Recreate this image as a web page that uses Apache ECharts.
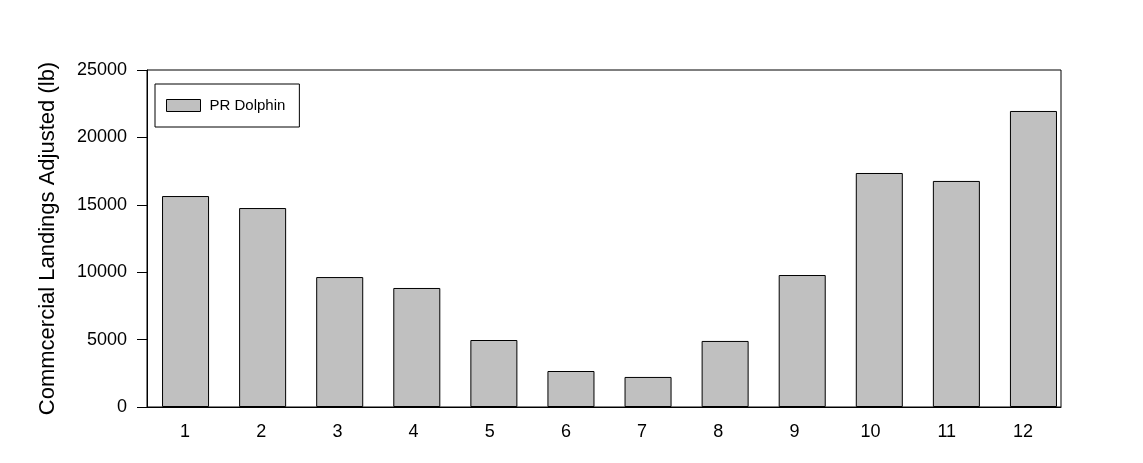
<!DOCTYPE html>
<html>
<head>
<meta charset="utf-8">
<script src="https://cdn.jsdelivr.net/npm/echarts@6/dist/echarts.min.js"></script>
<style>
  html, body { margin: 0; padding: 0; background: #fff; }
  #main { width: 1143px; height: 463px; }
</style>
</head>
<body>
<div id="main"></div>
<script>
// months 1..12
var months = ["1", "2", "3", "4", "5", "6", "7", "8", "9", "10", "11", "12"];
var dolphin = [15650, 14760, 9640, 8830, 4970, 2670, 2230, 4900, 9790, 17360, 16770, 21960];
var yTicks = [0, 5000, 10000, 15000, 20000, 25000];

var myChart = echarts.init(document.getElementById("main"));
myChart.setOption({
  animation: false,
  textStyle: { fontFamily: "Liberation Sans, Arial, sans-serif" },
  grid: [
    {
      // frame, ticks, labels
      left: 147,
      right: 82,
      top: 70,
      bottom: 56,
      show: true,
      borderColor: "#000",
      borderWidth: 1
    },
    {
      // bars sit on a slightly wider band, as in the original
      left: 147,
      right: 71,
      top: 70,
      bottom: 56
    }
  ],
  legend: {
    left: 155,
    top: 84,
    orient: "vertical",
    borderColor: "#000",
    borderWidth: 1,
    padding: [14, 14, 14, 11],
    itemWidth: 34,
    itemHeight: 12,
    icon: "rect",
    itemStyle: { borderColor: "#000", borderWidth: 1 },
    textStyle: { color: "#000", fontSize: 15, padding: [0, 0, 0, 4] },
    data: ["PR Dolphin"]
  },
  xAxis: [
    {
      type: "category",
      gridIndex: 0,
      data: months,
      axisLine: { lineStyle: { color: "#000" } },
      axisTick: { alignWithLabel: true, length: 6, lineStyle: { color: "#000" } },
      axisLabel: { color: "#000", fontSize: 18, margin: 16 }
    },
    {
      type: "category",
      gridIndex: 1,
      data: months,
      show: false
    }
  ],
  yAxis: [
    {
      type: "value",
      gridIndex: 0,
      min: 0,
      max: 25000,
      interval: 5000,
      name: "Commcercial Landings Adjusted (lb)",
      nameLocation: "middle",
      nameGap: 88,
      nameTextStyle: { color: "#000", fontSize: 22 },
      axisLine: { show: true, lineStyle: { color: "#000" } },
      axisTick: { show: true, length: 10, lineStyle: { color: "#000" } },
      axisLabel: {
        color: "#000",
        fontSize: 18,
        margin: 20,
        formatter: function (v) { return yTicks.indexOf(v) >= 0 ? String(v) : ""; }
      },
      splitLine: { show: false }
    },
    {
      type: "value",
      gridIndex: 1,
      min: 0,
      max: 25000,
      interval: 5000,
      show: false,
      splitLine: { show: false }
    }
  ],
  series: [
    {
      name: "PR Dolphin",
      type: "bar",
      xAxisIndex: 1,
      yAxisIndex: 1,
      data: dolphin,
      barCategoryGap: "39%",
      itemStyle: { color: "#c0c0c0", borderColor: "#000", borderWidth: 1 }
    }
  ]
});
</script>
</body>
</html>
